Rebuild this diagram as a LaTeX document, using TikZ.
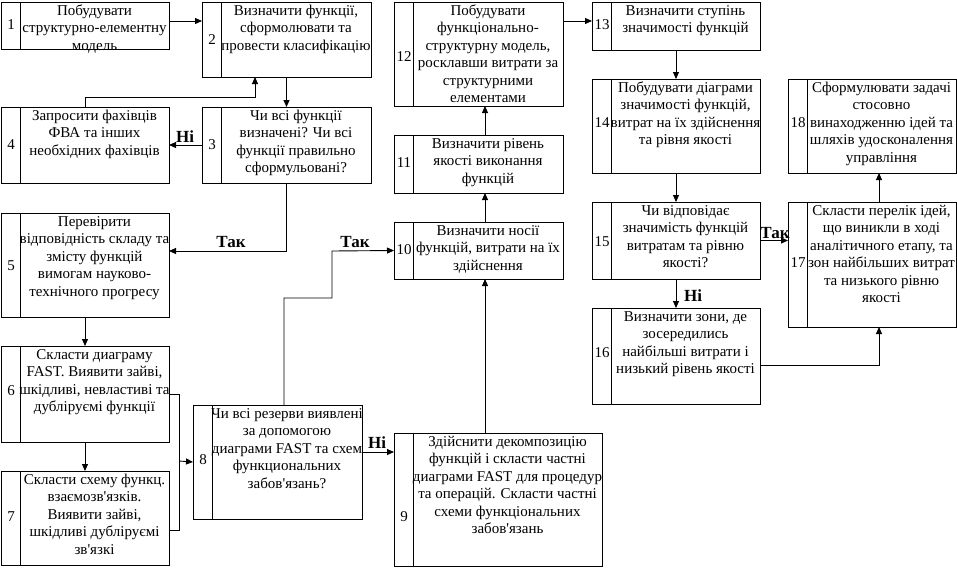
\documentclass[tikz,border=0pt]{standalone}
\usepackage{fontspec}
\setmainfont{Liberation Serif}
\usetikzlibrary{arrows.meta,calc}
\tikzset{
  boxst/.style={draw, line width=0.9pt, rectangle, inner sep=0pt, outer sep=0pt},
  linest/.style={line width=0.9pt},
  numst/.style={inner sep=0pt, font={\fontsize{15}{17.5}\selectfont}},
  txtst/.style={anchor=north, inner sep=0pt, align=center, font={\fontsize{15}{17.5}\selectfont}},
  lblst/.style={inner sep=0pt, font={\fontsize{17}{20}\selectfont\bfseries}},
  arr/.style={line width=0.9pt, -{Triangle[length=7pt,width=6pt]}},
  conn/.style={line width=0.9pt}
}
\newcommand{\flowbox}[8]{%
  \node[boxst, anchor=north west, minimum width={#4-#2}, minimum height={#5-#3}] (#1) at (#2,#3) {};
  \draw[linest] ($(#1.north west)+(19,0)$) -- ($(#1.south west)+(19,0)$);
  \node[numst] (#1n) at (#2+10,#7) {#6};
  \node[txtst] (#1t) at ({(#2+19+#4)/2},#3+1) {\rule{0pt}{12pt}#8};
}
\newcommand{\ap}{\textquotesingle}
\begin{document}
\begin{tikzpicture}[x=1pt,y=-1pt]
\useasboundingbox (0,0) rectangle (957,568);
\fill[white] (0,0) rectangle (957,568);

\flowbox{b1}{1}{2}{169}{49}{1}{25}{Побудувати\\структурно-елементну\\модель}
\flowbox{b2}{202}{2}{371}{77}{2}{40}{Визначити функції,\\сформолювати та\\провести класифікацію}
\flowbox{b3}{202}{107}{371}{183}{3}{145}{Чи всі функції\\визначені? Чи всі\\функції правильно\\сформульовані?}
\flowbox{b4}{1}{107}{169}{183}{4}{145}{Запросити фахівців\\ФВА та інших\\необхідних фахівців}
\flowbox{b5}{1}{213}{169}{317}{5}{266}{Перевірити\\відповідність складу та\\змісту функцій\\вимогам науково-\\технічного прогресу}
\flowbox{b6}{1}{346}{169}{442}{6}{391}{Скласти диаграму\\FAST. Виявити зайві,\\шкідливі, невластиві та\\дубліруємі функції}
\flowbox{b7}{1}{471}{169}{565}{7}{517}{Скласти схему функц.\\взаємозв\ap язків.\\Виявити зайві,\\шкідливі дубліруємі\\зв\ap язкі}
\flowbox{b8}{193}{405}{362}{519}{8}{460}{Чи всі резерви виявлені\\за допомогою\\диаграми FAST та схем\\функциональних\\забов\ap язань?}
\flowbox{b9}{394}{433}{602}{566}{9}{517}{Здійснити декомпозицію\\функцій і скласти частні\\диаграми FAST для процедур\\та операцій. Скласти частні\\схеми функціональних\\забов\ap язань}
\flowbox{b10}{394}{222}{563}{279}{10}{250}{Визначити носії\\функцій, витрати на їх\\здійснення}
\flowbox{b11}{394}{135}{563}{193}{11}{163}{Визначити рівень\\якості виконання\\функцій}
\flowbox{b12}{394}{2}{563}{106}{12}{57}{Побудувати\\функціонально-\\структурну модель,\\росклавши витрати за\\структурними\\елементами}
\flowbox{b13}{592}{2}{760}{50}{13}{25}{Визначити ступінь\\значимості функцій}
\flowbox{b14}{592}{79}{760}{173}{14}{123}{Побудувати діаграми\\значимості функцій,\\витрат на їх здійснення\\та рівня якості}
\flowbox{b15}{592}{202}{760}{279}{15}{242}{Чи відповідає\\значимість функцій\\витратам та рівню\\якості?}
\flowbox{b16}{592}{308}{760}{404}{16}{353}{Визначити зони, де\\зосередились\\найбільші витрати і\\низький рівень якості}
\flowbox{b17}{788}{202}{956}{327}{17}{263}{Скласти перелік ідей,\\що виникли в ході\\аналітичного етапу, та\\зон найбільших витрат\\та низького рівню\\якості}
\flowbox{b18}{788}{79}{956}{173}{18}{123}{Сформулювати задачі\\стосовно\\винаходженню ідей та\\шляхів удосконалення\\управління}

% connectors
\draw[arr] ($(b1.north east)+(0,19)$) -- ($(b2.north west)+(0,19)$);
\draw[arr] (b2.south) -- (b3.north);
\draw[arr] (b3.west) -- (b4.east);
\draw[arr] (b4.north) -- ++(0,-10) -| ($(b2.south west)+(53,0)$);
\draw[arr] (b3.south) |- ($(b5.north east)+(0,38)$);
\draw[arr] (b5.south) -- (b6.north);
\draw[arr] (b6.south) -- (b7.north);
\draw[conn] (b6.east) -- ++(10,0) |- ($(b7.north east)+(0,59)$);
\coordinate (jm) at (179,461);
\draw[arr] (jm) -- (b8.west);
\draw[arr] ($(b8.north east)+(0,47)$) -- ($(b9.north west)+(0,19)$);
\draw[arr] ($(b8.north west)+(91,0)$) -- ++(0,-107) -- ++(48,0) -- ++(0,-47) -- (b10.west);
\draw[arr] ($(b9.north west)+(91,0)$) -- ($(b10.south west)+(91,0)$);
\draw[arr] ($(b10.north west)+(91,0)$) -- ($(b11.south west)+(91,0)$);
\draw[arr] ($(b11.north west)+(91,0)$) -- ($(b12.south west)+(91,0)$);
\draw[arr] ($(b12.north east)+(0,19)$) -- ($(b13.north west)+(0,19)$);
\draw[arr] (b13.south) -- (b14.north);
\draw[arr] (b14.south) -- (b15.north);
\draw[arr] (b15.south) -- (b16.north);
\draw[arr] (b15.east) -- (b15.east -| b17.west);
\draw[arr] ($(b16.north east)+(0,57)$) -| ($(b17.south west)+(91,0)$);
\draw[arr] ($(b17.north west)+(91,0)$) -- ($(b18.south west)+(91,0)$);

% labels
\node[lblst] (l3) at (185,137) {Ні};
\node[lblst] (l5) at (231,242) {Так};
\node[lblst] (l10) at (355,242) {Так};
\node[lblst] (l9) at (377,443) {Ні};
\node[lblst] (l16) at (693,296) {Ні};
\node[lblst] (l17) at (775,233) {Так};
\end{tikzpicture}
\end{document}
